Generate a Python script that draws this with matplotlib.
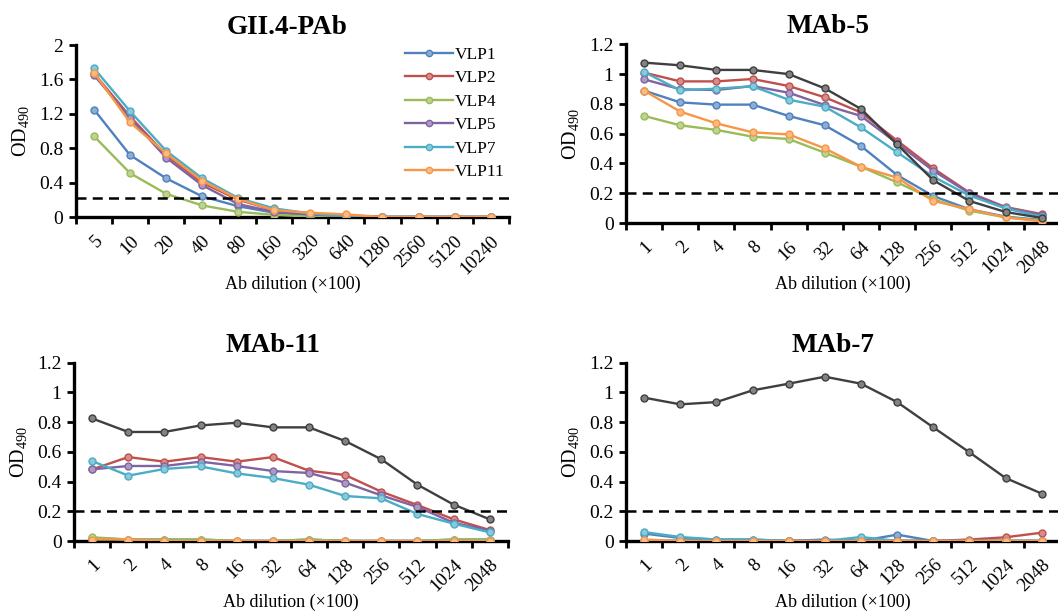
import numpy as np
import matplotlib
matplotlib.use('Agg')
import matplotlib.pyplot as plt
from matplotlib.ticker import FixedLocator, FormatStrFormatter

plt.rcParams['font.family'] = ['Liberation Serif', 'DejaVu Serif']
plt.rcParams['mathtext.fontset'] = 'custom'
plt.rcParams['mathtext.rm'] = 'Liberation Serif'

# dilution steps (x100)
pab_dil = ['5', '10', '20', '40', '80', '160', '320', '640', '1280', '2560', '5120', '10240']
mab_dil = ['1', '2', '4', '8', '16', '32', '64', '128', '256', '512', '1024', '2048']

vlp_names = ['VLP1', 'VLP2', 'VLP4', 'VLP5', 'VLP7', 'VLP11']

# GII.4 polyclonal serum
pab_vlp1 = [1.25, 0.72, 0.45, 0.24, 0.125, 0.05, 0.02, 0.0, 0.0, 0.0, 0.0, 0.0]
pab_vlp2 = [1.67, 1.17, 0.72, 0.40, 0.20, 0.08, 0.04, 0.02, 0.0, 0.0, 0.0, 0.0]
pab_vlp4 = [0.94, 0.51, 0.27, 0.135, 0.06, 0.025, 0.005, 0.0, 0.0, 0.0, 0.0, 0.0]
pab_vlp5 = [1.65, 1.15, 0.69, 0.37, 0.15, 0.06, 0.03, 0.01, 0.0, 0.0, 0.0, 0.0]
pab_vlp7 = [1.73, 1.23, 0.77, 0.45, 0.22, 0.10, 0.04, 0.01, 0.0, 0.0, 0.0, 0.0]
pab_vlp11 = [1.68, 1.10, 0.74, 0.42, 0.21, 0.08, 0.05, 0.03, 0.0, 0.0, 0.0, 0.0]

# MAb-5
mab5_vlp1 = [0.889, 0.81, 0.795, 0.795, 0.719, 0.656, 0.517, 0.322, 0.181, 0.092, 0.043, 0.02]
mab5_vlp2 = [1.01, 0.951, 0.951, 0.967, 0.92, 0.844, 0.743, 0.553, 0.367, 0.204, 0.107, 0.06]
mab5_vlp4 = [0.719, 0.656, 0.625, 0.58, 0.564, 0.472, 0.378, 0.273, 0.159, 0.083, 0.038, 0.016]
mab5_vlp5 = [0.965, 0.898, 0.893, 0.92, 0.875, 0.792, 0.719, 0.535, 0.351, 0.2, 0.103, 0.054]
mab5_vlp7 = [1.014, 0.891, 0.902, 0.918, 0.828, 0.781, 0.642, 0.475, 0.311, 0.184, 0.098, 0.043]
mab5_vlp11 = [0.889, 0.748, 0.669, 0.609, 0.595, 0.501, 0.378, 0.304, 0.148, 0.092, 0.038, 0.011]
mab5_ref = [1.077, 1.059, 1.028, 1.028, 1.0, 0.904, 0.766, 0.528, 0.287, 0.148, 0.074, 0.034]

# MAb-11
mab11_vlp1 = [0.02, 0.01, 0.01, 0.01, 0.0, 0.0, 0.01, 0.0, 0.0, 0.0, 0.01, 0.01]
mab11_vlp2 = [0.482, 0.565, 0.534, 0.565, 0.534, 0.565, 0.473, 0.444, 0.332, 0.242, 0.146, 0.074]
mab11_vlp4 = [0.025, 0.01, 0.01, 0.01, 0.0, 0.0, 0.01, 0.0, 0.0, 0.0, 0.01, 0.01]
mab11_vlp5 = [0.482, 0.505, 0.505, 0.534, 0.505, 0.471, 0.458, 0.393, 0.307, 0.229, 0.123, 0.07]
mab11_vlp7 = [0.538, 0.44, 0.485, 0.502, 0.455, 0.424, 0.379, 0.303, 0.287, 0.182, 0.117, 0.058]
mab11_vlp11 = [0.01, 0.01, 0.0, 0.0, 0.0, 0.0, 0.0, 0.0, 0.0, 0.0, 0.0, 0.0]
mab11_ref = [0.825, 0.734, 0.734, 0.778, 0.796, 0.765, 0.765, 0.673, 0.55, 0.379, 0.245, 0.146]

# MAb-7
mab7_vlp1 = [0.05, 0.02, 0.01, 0.01, 0.0, 0.01, 0.0, 0.043, 0.0, 0.0, 0.0, 0.0]
mab7_vlp2 = [0.0, 0.0, 0.0, 0.0, 0.0, 0.0, 0.0, 0.0, 0.0, 0.01, 0.025, 0.056]
mab7_vlp4 = [0.0, 0.0, 0.0, 0.0, 0.0, 0.0, 0.0, 0.0, 0.0, 0.0, 0.0, 0.0]
mab7_vlp5 = [0.0, 0.0, 0.0, 0.0, 0.0, 0.0, 0.0, 0.0, 0.0, 0.0, 0.0, 0.0]
mab7_vlp7 = [0.06, 0.027, 0.01, 0.01, 0.0, 0.0, 0.027, 0.0, 0.0, 0.0, 0.0, 0.0]
mab7_vlp11 = [0.01, 0.0, 0.0, 0.0, 0.0, 0.0, 0.0, 0.0, 0.0, 0.0, 0.0, 0.0]
mab7_ref = [0.965, 0.92, 0.935, 1.014, 1.059, 1.106, 1.059, 0.935, 0.765, 0.597, 0.424, 0.319]

pab_cutoff = 0.22
mab_cutoff = 0.2

colors = ['#4F81BD', '#C0504D', '#9BBB59', '#8064A2', '#4BACC6', '#F79646']
ref_color = '#3F3F3F'


def lighten(c, f=0.35):
    rgb = np.array(matplotlib.colors.to_rgb(c))
    return tuple(rgb + (1 - rgb) * f)


def draw_panel(ax, title, title_x, labels, series, ymax, ystep, cutoff, ref=None):
    x = np.arange(len(labels))
    for vals, c, name in zip(series, colors, vlp_names):
        ax.plot(x, vals, '-o', color=c, lw=1.7, ms=5, mfc=lighten(c), mec=c,
                mew=1.0, label=name, zorder=3)
    if ref is not None:
        ax.plot(x, ref, '-o', color=ref_color, lw=1.7, ms=5, mfc=lighten(ref_color),
                mec=ref_color, mew=1.0, zorder=4)
    ax.axhline(cutoff, color='black', lw=1.8, ls=(0, (4, 2.5)), zorder=5, clip_on=False)

    ax.set_xlim(-0.5, len(labels) - 0.5)
    ax.set_ylim(0, ymax)
    ax.set_yticks(np.arange(0, ymax + ystep / 2, ystep))
    ax.yaxis.set_major_formatter(FormatStrFormatter('%g'))

    # tick marks between categories, labels at category centres
    ax.xaxis.set_major_locator(FixedLocator(np.arange(-0.5, len(labels), 1.0)))
    ax.xaxis.set_minor_locator(FixedLocator(x))
    ax.set_xticklabels([])
    ax.set_xticklabels(labels, minor=True, rotation=45, ha='right', va='top',
                       rotation_mode='anchor', fontsize=13.5)
    ax.tick_params(axis='x', which='minor', length=0, pad=11)
    ax.tick_params(axis='x', which='major', length=5, width=2, direction='out')
    ax.tick_params(axis='y', length=5, width=2, direction='out', labelsize=14, pad=4)

    for s in ['top', 'right']:
        ax.spines[s].set_visible(False)
    for s in ['left', 'bottom']:
        ax.spines[s].set_linewidth(2.4)

    ax.set_xlabel('Ab dilution (\u00d7100)', fontsize=13, labelpad=-1)
    ax.set_ylabel(r'$\mathrm{OD}_{490}$', fontsize=14.5, labelpad=5)
    ax.set_title(title, x=title_x, fontsize=19.5, fontweight='bold', pad=8)


fig = plt.figure(figsize=(10.58, 6.12), dpi=100)

ax1 = fig.add_axes([0.0718, 0.6454, 0.409, 0.281])
ax2 = fig.add_axes([0.5917, 0.6356, 0.410, 0.292])
ax3 = fig.add_axes([0.070, 0.116, 0.410, 0.2913])
ax4 = fig.add_axes([0.5917, 0.116, 0.410, 0.2913])

draw_panel(ax1, 'GII.4-PAb', 0.487, pab_dil,
           [pab_vlp1, pab_vlp2, pab_vlp4, pab_vlp5, pab_vlp7, pab_vlp11],
           2.0, 0.4, pab_cutoff)
draw_panel(ax2, 'MAb-5', 0.465, mab_dil,
           [mab5_vlp1, mab5_vlp2, mab5_vlp4, mab5_vlp5, mab5_vlp7, mab5_vlp11],
           1.2, 0.2, mab_cutoff, ref=mab5_ref)
draw_panel(ax3, 'MAb-11', 0.459, mab_dil,
           [mab11_vlp1, mab11_vlp2, mab11_vlp4, mab11_vlp5, mab11_vlp7, mab11_vlp11],
           1.2, 0.2, mab_cutoff, ref=mab11_ref)
draw_panel(ax4, 'MAb-7', 0.477, mab_dil,
           [mab7_vlp1, mab7_vlp2, mab7_vlp4, mab7_vlp5, mab7_vlp7, mab7_vlp11],
           1.2, 0.2, mab_cutoff, ref=mab7_ref)

ax1.legend(loc='upper left', bbox_to_anchor=(0.74, 1.04), frameon=False,
           fontsize=12.5, borderpad=0, handlelength=2.8, handletextpad=0.1,
           labelspacing=0.42, markerscale=0.9)

fig.savefig('out.png', dpi=100)
